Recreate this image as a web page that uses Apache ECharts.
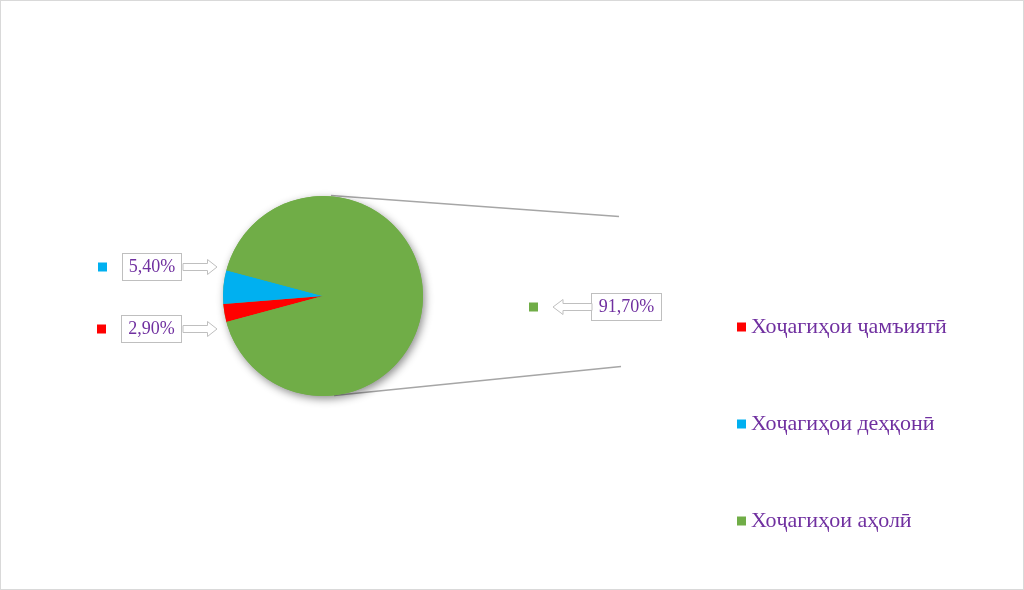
<!DOCTYPE html>
<html>
<head>
<meta charset="utf-8">
<script src="https://cdn.jsdelivr.net/npm/echarts@6/dist/echarts.min.js"></script>
<style>
html,body{margin:0;padding:0;background:#fff;}
#c{width:1022px;height:588px;border:1px solid #d9d9d9;}
</style>
</head>
<body>
<div id="c"></div>
<script>
const categories = ['Хоҷагиҳои ҷамъиятӣ', 'Хоҷагиҳои деҳқонӣ', 'Хоҷагиҳои аҳолӣ'];
const values = [2.9, 5.4, 91.7];
const valueLabels = ['2,90%', '5,40%', '91,70%'];
const colors = ['#FF0000', '#00B0F0', '#70AD47'];

const chart = echarts.init(document.getElementById('c'), null, {renderer: 'canvas'});
const FONT = '"Liberation Serif", "Times New Roman", serif';
const PURPLE = '#7030A0';
const CX = 322, CY = 295, R = 100;

// label anchor positions (layout only)
const labelPos = [
  {x: 96, y: 328, boxW: 61, gap: 16},
  {x: 97, y: 266, boxW: 60, gap: 16},
  {x: 528, y: 306, boxW: 71, gap: 54}
];

function rightArrow(x0, x1, cy) {
  const hb = x1 - 9.5;
  return [[x0, cy - 3.5], [hb, cy - 3.5], [hb, cy - 7.5], [x1, cy], [hb, cy + 7.5], [hb, cy + 3.5], [x0, cy + 3.5]];
}
function leftArrow(x0, x1, cy) { // tip at x0
  const hb = x0 + 10;
  return [[x1, cy - 3.5], [hb, cy - 3.5], [hb, cy - 7.5], [x0, cy], [hb, cy + 7.5], [hb, cy + 3.5], [x1, cy + 3.5]];
}

const graphics = [
  {type: 'line', silent: true, z: 0, shape: {x1: 330, y1: 194.5, x2: 618, y2: 215.5}, style: {stroke: '#a6a6a6', lineWidth: 1.5}},
  {type: 'line', silent: true, z: 0, shape: {x1: 333, y1: 394.5, x2: 620, y2: 365.5}, style: {stroke: '#a6a6a6', lineWidth: 1.5}},
  {type: 'polygon', silent: true, z: 10, shape: {points: rightArrow(182, 216, 328)}, style: {fill: '#fff', stroke: '#bfbfbf', lineWidth: 1}},
  {type: 'polygon', silent: true, z: 10, shape: {points: rightArrow(182, 216, 266)}, style: {fill: '#fff', stroke: '#bfbfbf', lineWidth: 1}},
  {type: 'polygon', silent: true, z: 10, shape: {points: leftArrow(552, 591, 306)}, style: {fill: '#fff', stroke: '#bfbfbf', lineWidth: 1}}
];

const pieData = categories.map((name, i) => ({
  name: name,
  value: values[i],
  itemStyle: {color: colors[i]},
  label: {
    formatter: '{k|}{g' + i + '|}{b' + i + '|' + valueLabels[i] + '}'
  }
}));

const rich = {};
labelPos.forEach((p, i) => {
  rich['g' + i] = {width: p.gap, height: 9};
  rich['b' + i] = {
    width: p.boxW - 2, height: 26, align: 'center',
    borderColor: '#bfbfbf', borderWidth: 1, backgroundColor: '#fff',
    color: PURPLE, fontFamily: FONT, fontSize: 18
  };
});
const richFor = i => Object.assign({}, rich, {k: {width: 9, height: 9, backgroundColor: colors[i]}});
pieData.forEach((d, i) => { d.label.rich = richFor(i); });

chart.setOption({
  animation: false,
  backgroundColor: '#fff',
  legend: {
    orient: 'vertical',
    left: 731,
    top: 310,
    itemWidth: 9,
    itemHeight: 9,
    itemGap: 75,
    icon: 'rect',
    data: categories,
    textStyle: {color: PURPLE, fontFamily: FONT, fontSize: 22, padding: [0, 0, 0, 0]}
  },
  graphic: graphics,
  series: [
    {
      type: 'pie',
      silent: true,
      z: 1,
      center: [CX, CY],
      radius: R,
      label: {show: false},
      labelLine: {show: false},
      data: [{value: 1, itemStyle: {color: '#70AD47', shadowBlur: 8, shadowOffsetX: 2, shadowOffsetY: 3, shadowColor: 'rgba(0,0,0,0.45)'}}],
      legendHoverLink: false
    },
    {
      type: 'pie',
      z: 2,
      center: [CX, CY],
      radius: R,
      startAngle: 195,
      clockwise: true,
      itemStyle: {borderWidth: 0},
      label: {show: true, position: 'outside', color: PURPLE, fontFamily: FONT, fontSize: 18},
      labelLine: {show: false},
      labelLayout: function (params) {
        const p = labelPos[params.dataIndex];
        return {x: p.x, y: p.y, align: 'left', verticalAlign: 'middle', hideOverlap: false};
      },
      data: pieData
    }
  ]
});
</script>
</body>
</html>
